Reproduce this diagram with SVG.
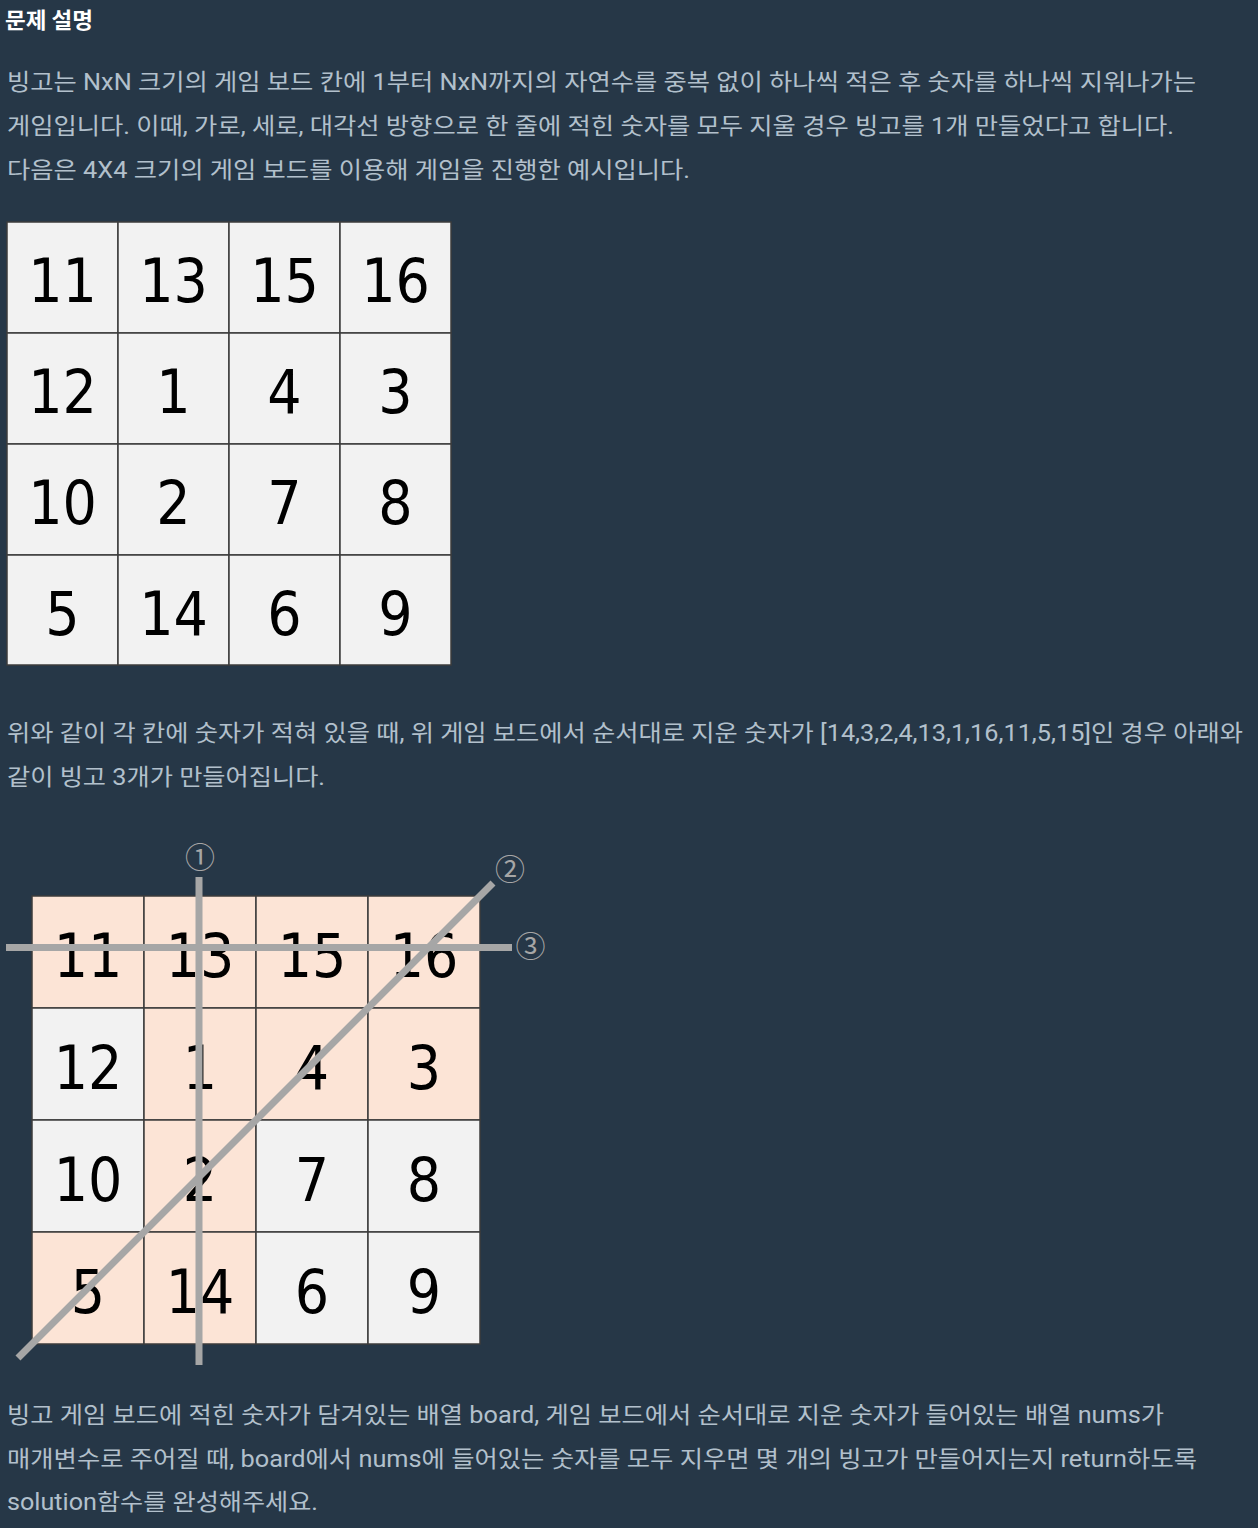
<svg xmlns="http://www.w3.org/2000/svg" width="1258" height="1528" viewBox="0 0 1258 1528">
<style>
.bg{fill:#263747}
.h{font-family:"Noto Sans CJK KR","Noto Sans",sans-serif;font-weight:bold;font-size:22px;fill:#ffffff}
.t{font-family:Roboto,"Noto Sans CJK KR",sans-serif;font-size:23px;fill:#b2c0cc}
.cw{fill:#f2f2f2;stroke:#3c3c3c;stroke-width:1.5}
.cp{fill:#fce4d6;stroke:#3c3c3c;stroke-width:1.5}
.n{font-family:"DejaVu Sans Condensed","DejaVu Sans",sans-serif;font-stretch:condensed;font-size:60px;fill:#000000;text-anchor:middle}
.ln{stroke:#a6a6a6;stroke-width:7;fill:none}
.c{font-family:"Noto Sans CJK KR",sans-serif;font-size:30px;fill:#a6a6a6;text-anchor:middle}
</style>
<rect class="bg" x="0" y="0" width="1258" height="1528"/>
<g id="heading"><text class="h" x="5" y="28" textLength="88" lengthAdjust="spacingAndGlyphs">문제 설명</text></g>
<g id="para1">
<text class="t" x="7" y="90" textLength="1189" lengthAdjust="spacingAndGlyphs">빙고는 NxN 크기의 게임 보드 칸에 1부터 NxN까지의 자연수를 중복 없이 하나씩 적은 후 숫자를 하나씩 지워나가는</text>
<text class="t" x="7" y="134" textLength="1167" lengthAdjust="spacingAndGlyphs">게임입니다. 이때, 가로, 세로, 대각선 방향으로 한 줄에 적힌 숫자를 모두 지울 경우 빙고를 1개 만들었다고 합니다.</text>
<text class="t" x="7" y="178" textLength="683" lengthAdjust="spacingAndGlyphs">다음은 4X4 크기의 게임 보드를 이용해 게임을 진행한 예시입니다.</text>
</g>
<g id="board1">
<g id="b1-r0">
<rect class="cw" x="7" y="222" width="111" height="111"/><rect class="cw" x="118" y="222" width="111" height="111"/><rect class="cw" x="229" y="222" width="111" height="111"/><rect class="cw" x="340" y="222" width="111" height="111"/>
<text class="n" x="62.5" y="302">11</text><text class="n" x="173.5" y="302">13</text><text class="n" x="284.5" y="302">15</text><text class="n" x="395.5" y="302">16</text>
</g>
<g id="b1-r1">
<rect class="cw" x="7" y="333" width="111" height="111"/><rect class="cw" x="118" y="333" width="111" height="111"/><rect class="cw" x="229" y="333" width="111" height="111"/><rect class="cw" x="340" y="333" width="111" height="111"/>
<text class="n" x="62.5" y="413">12</text><text class="n" x="173.5" y="413">1</text><text class="n" x="284.5" y="413">4</text><text class="n" x="395.5" y="413">3</text>
</g>
<g id="b1-r2">
<rect class="cw" x="7" y="444" width="111" height="111"/><rect class="cw" x="118" y="444" width="111" height="111"/><rect class="cw" x="229" y="444" width="111" height="111"/><rect class="cw" x="340" y="444" width="111" height="111"/>
<text class="n" x="62.5" y="524">10</text><text class="n" x="173.5" y="524">2</text><text class="n" x="284.5" y="524">7</text><text class="n" x="395.5" y="524">8</text>
</g>
<g id="b1-r3">
<rect class="cw" x="7" y="555" width="111" height="110"/><rect class="cw" x="118" y="555" width="111" height="110"/><rect class="cw" x="229" y="555" width="111" height="110"/><rect class="cw" x="340" y="555" width="111" height="110"/>
<text class="n" x="62.5" y="635">5</text><text class="n" x="173.5" y="635">14</text><text class="n" x="284.5" y="635">6</text><text class="n" x="395.5" y="635">9</text>
</g>
</g>
<g id="para2">
<text class="t" x="7" y="741" textLength="1236" lengthAdjust="spacingAndGlyphs">위와 같이 각 칸에 숫자가 적혀 있을 때, 위 게임 보드에서 순서대로 지운 숫자가 [14,3,2,4,13,1,16,11,5,15]인 경우 아래와</text>
<text class="t" x="7" y="785" textLength="318" lengthAdjust="spacingAndGlyphs">같이 빙고 3개가 만들어집니다.</text>
</g>
<g id="board2">
<g id="b2-r0">
<rect class="cp" x="32" y="896" width="112" height="112"/><rect class="cp" x="144" y="896" width="112" height="112"/><rect class="cp" x="256" y="896" width="112" height="112"/><rect class="cp" x="368" y="896" width="112" height="112"/>
<text class="n" x="88" y="977">11</text><text class="n" x="200" y="977">13</text><text class="n" x="312" y="977">15</text><text class="n" x="424" y="977">16</text>
</g>
<g id="b2-r1">
<rect class="cw" x="32" y="1008" width="112" height="112"/><rect class="cp" x="144" y="1008" width="112" height="112"/><rect class="cp" x="256" y="1008" width="112" height="112"/><rect class="cp" x="368" y="1008" width="112" height="112"/>
<text class="n" x="88" y="1089">12</text><text class="n" x="200" y="1089">1</text><text class="n" x="312" y="1089">4</text><text class="n" x="424" y="1089">3</text>
</g>
<g id="b2-r2">
<rect class="cw" x="32" y="1120" width="112" height="112"/><rect class="cp" x="144" y="1120" width="112" height="112"/><rect class="cw" x="256" y="1120" width="112" height="112"/><rect class="cw" x="368" y="1120" width="112" height="112"/>
<text class="n" x="88" y="1201">10</text><text class="n" x="200" y="1201">2</text><text class="n" x="312" y="1201">7</text><text class="n" x="424" y="1201">8</text>
</g>
<g id="b2-r3">
<rect class="cp" x="32" y="1232" width="112" height="112"/><rect class="cp" x="144" y="1232" width="112" height="112"/><rect class="cw" x="256" y="1232" width="112" height="112"/><rect class="cw" x="368" y="1232" width="112" height="112"/>
<text class="n" x="88" y="1313">5</text><text class="n" x="200" y="1313">14</text><text class="n" x="312" y="1313">6</text><text class="n" x="424" y="1313">9</text>
</g>
</g>
<g id="connectors">
<line class="ln" x1="199" y1="877" x2="199" y2="1365"/>
<line class="ln" x1="18" y1="1358" x2="493" y2="883"/>
<line class="ln" x1="6" y1="947.5" x2="512" y2="947.5"/>
</g>
<g id="labels">
<text class="c" x="200" y="868">①</text>
<text class="c" x="510" y="880">②</text>
<text class="c" x="530.5" y="956.5">③</text>
</g>
<g id="para3">
<text class="t" x="7" y="1423" textLength="1157" lengthAdjust="spacingAndGlyphs">빙고 게임 보드에 적힌 숫자가 담겨있는 배열 board, 게임 보드에서 순서대로 지운 숫자가 들어있는 배열 nums가</text>
<text class="t" x="7" y="1467" textLength="1190" lengthAdjust="spacingAndGlyphs">매개변수로 주어질 때, board에서 nums에 들어있는 숫자를 모두 지우면 몇 개의 빙고가 만들어지는지 return하도록</text>
<text class="t" x="7" y="1510" textLength="311" lengthAdjust="spacingAndGlyphs">solution함수를 완성해주세요.</text>
</g>
</svg>
